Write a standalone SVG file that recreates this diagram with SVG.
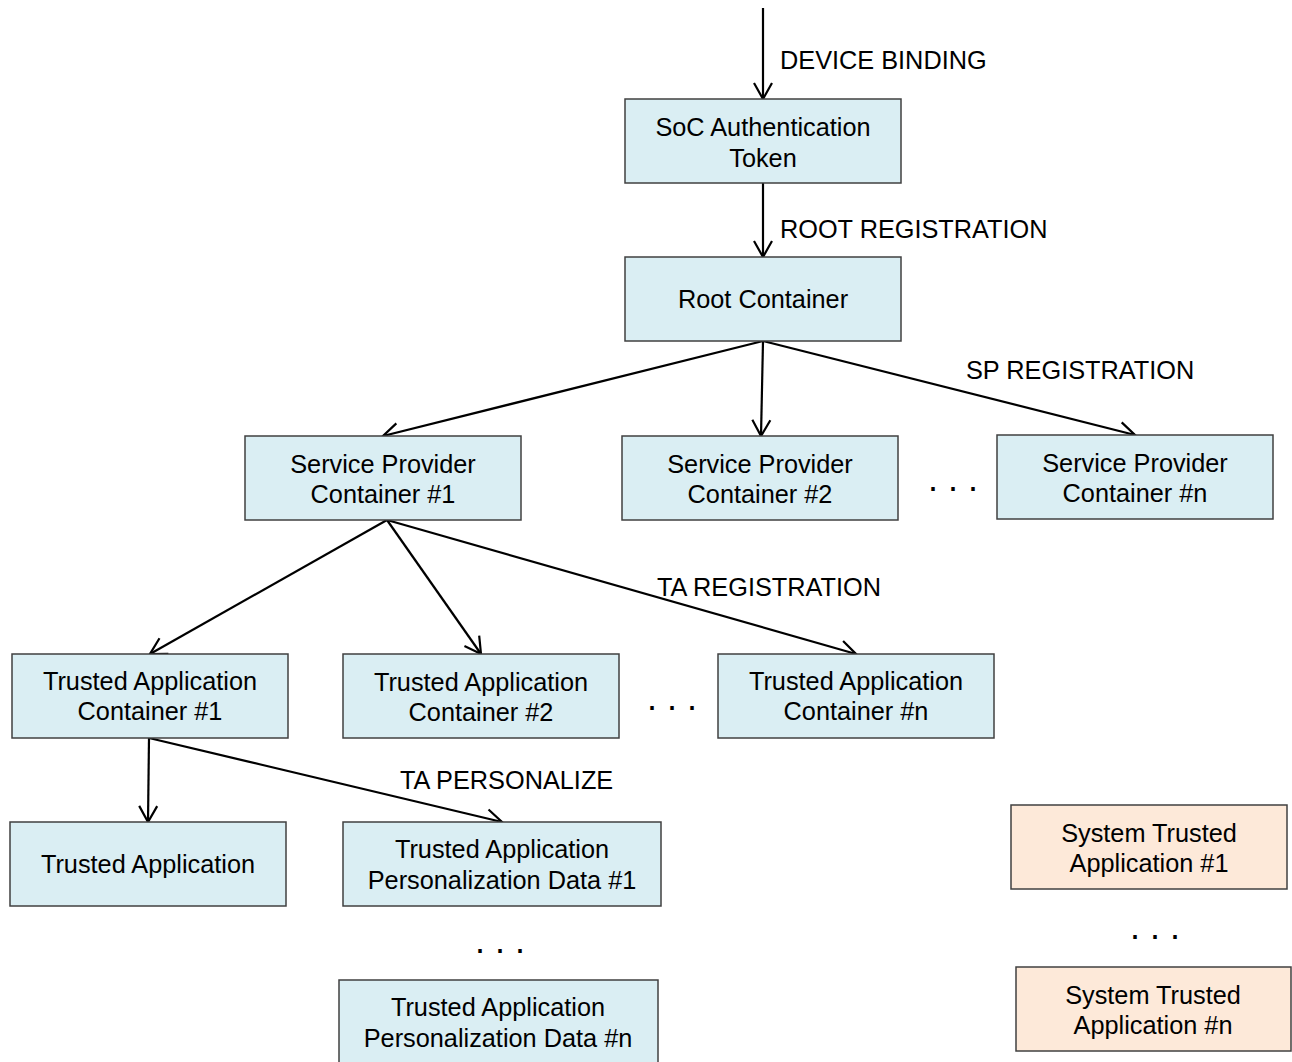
<svg xmlns="http://www.w3.org/2000/svg" width="1292" height="1062" viewBox="0 0 1292 1062">
<style>
.b{fill:#DAEEF3;stroke:#404040;stroke-width:1.5}
.p{fill:#FDE9D9;stroke:#404040;stroke-width:1.5}
text{font-family:"Liberation Sans",Arial,sans-serif;font-size:25.3px;fill:#000}
.c{text-anchor:middle}
.d{text-anchor:middle;font-size:36px}
.e{stroke:#000;stroke-width:2.2;fill:none;marker-end:url(#a)}
</style>
<defs>
<marker id="a" markerUnits="userSpaceOnUse" markerWidth="22" markerHeight="22" refX="17" refY="11" orient="auto" viewBox="0 0 22 22">
<path d="M1,2 L17,11 L1,20" fill="none" stroke="#000" stroke-width="2.2"/>
</marker>
</defs>
<rect width="1292" height="1062" fill="#fff"/>
<g id="connectors">
<line class="e" x1="763" y1="8" x2="763" y2="99"/>
<line class="e" x1="763" y1="183" x2="763" y2="257"/>
<line class="e" x1="763" y1="341" x2="383" y2="436"/>
<line class="e" x1="763" y1="341" x2="761" y2="436"/>
<line class="e" x1="763" y1="341" x2="1135" y2="435"/>
<line class="e" x1="387" y1="520" x2="150" y2="654"/>
<line class="e" x1="387" y1="520" x2="481" y2="654"/>
<line class="e" x1="387" y1="520" x2="856" y2="654"/>
<line class="e" x1="149" y1="738" x2="148" y2="822"/>
<line class="e" x1="149" y1="738" x2="502" y2="822"/>
</g>
<g id="labels">
<text x="780" y="69">DEVICE BINDING</text>
<text x="780" y="238">ROOT REGISTRATION</text>
<text x="966" y="379">SP REGISTRATION</text>
<text x="657" y="596">TA REGISTRATION</text>
<text x="400" y="789">TA PERSONALIZE</text>
<text class="d" x="953" y="491">. . .</text>
<text class="d" x="672" y="710">. . .</text>
<text class="d" x="500" y="953">. . .</text>
<text class="d" x="1155" y="939">. . .</text>
</g>
<g id="soc"><rect class="b" x="625" y="99" width="276" height="84"/><text class="c" x="763" y="136">SoC Authentication</text><text class="c" x="763" y="167">Token</text></g>
<g id="root"><rect class="b" x="625" y="257" width="276" height="84"/><text class="c" x="763" y="308">Root Container</text></g>
<g id="sp1"><rect class="b" x="245" y="436" width="276" height="84"/><text class="c" x="383" y="473">Service Provider</text><text class="c" x="383" y="503">Container #1</text></g>
<g id="sp2"><rect class="b" x="622" y="436" width="276" height="84"/><text class="c" x="760" y="473">Service Provider</text><text class="c" x="760" y="503">Container #2</text></g>
<g id="spn"><rect class="b" x="997" y="435" width="276" height="84"/><text class="c" x="1135" y="472">Service Provider</text><text class="c" x="1135" y="502">Container #n</text></g>
<g id="ta1"><rect class="b" x="12" y="654" width="276" height="84"/><text class="c" x="150" y="690">Trusted Application</text><text class="c" x="150" y="720">Container #1</text></g>
<g id="ta2"><rect class="b" x="343" y="654" width="276" height="84"/><text class="c" x="481" y="691">Trusted Application</text><text class="c" x="481" y="721">Container #2</text></g>
<g id="tan"><rect class="b" x="718" y="654" width="276" height="84"/><text class="c" x="856" y="690">Trusted Application</text><text class="c" x="856" y="720">Container #n</text></g>
<g id="ta"><rect class="b" x="10" y="822" width="276" height="84"/><text class="c" x="148" y="873">Trusted Application</text></g>
<g id="pd1"><rect class="b" x="343" y="822" width="318" height="84"/><text class="c" x="502" y="858">Trusted Application</text><text class="c" x="502" y="889">Personalization Data #1</text></g>
<g id="pdn"><rect class="b" x="339" y="980" width="319" height="90"/><text class="c" x="498" y="1016">Trusted Application</text><text class="c" x="498" y="1047">Personalization Data #n</text></g>
<g id="sta1"><rect class="p" x="1011" y="805" width="276" height="84"/><text class="c" x="1149" y="842">System Trusted</text><text class="c" x="1149" y="872">Application #1</text></g>
<g id="stan"><rect class="p" x="1016" y="967" width="275" height="84"/><text class="c" x="1153" y="1004">System Trusted</text><text class="c" x="1153" y="1034">Application #n</text></g>
</svg>
